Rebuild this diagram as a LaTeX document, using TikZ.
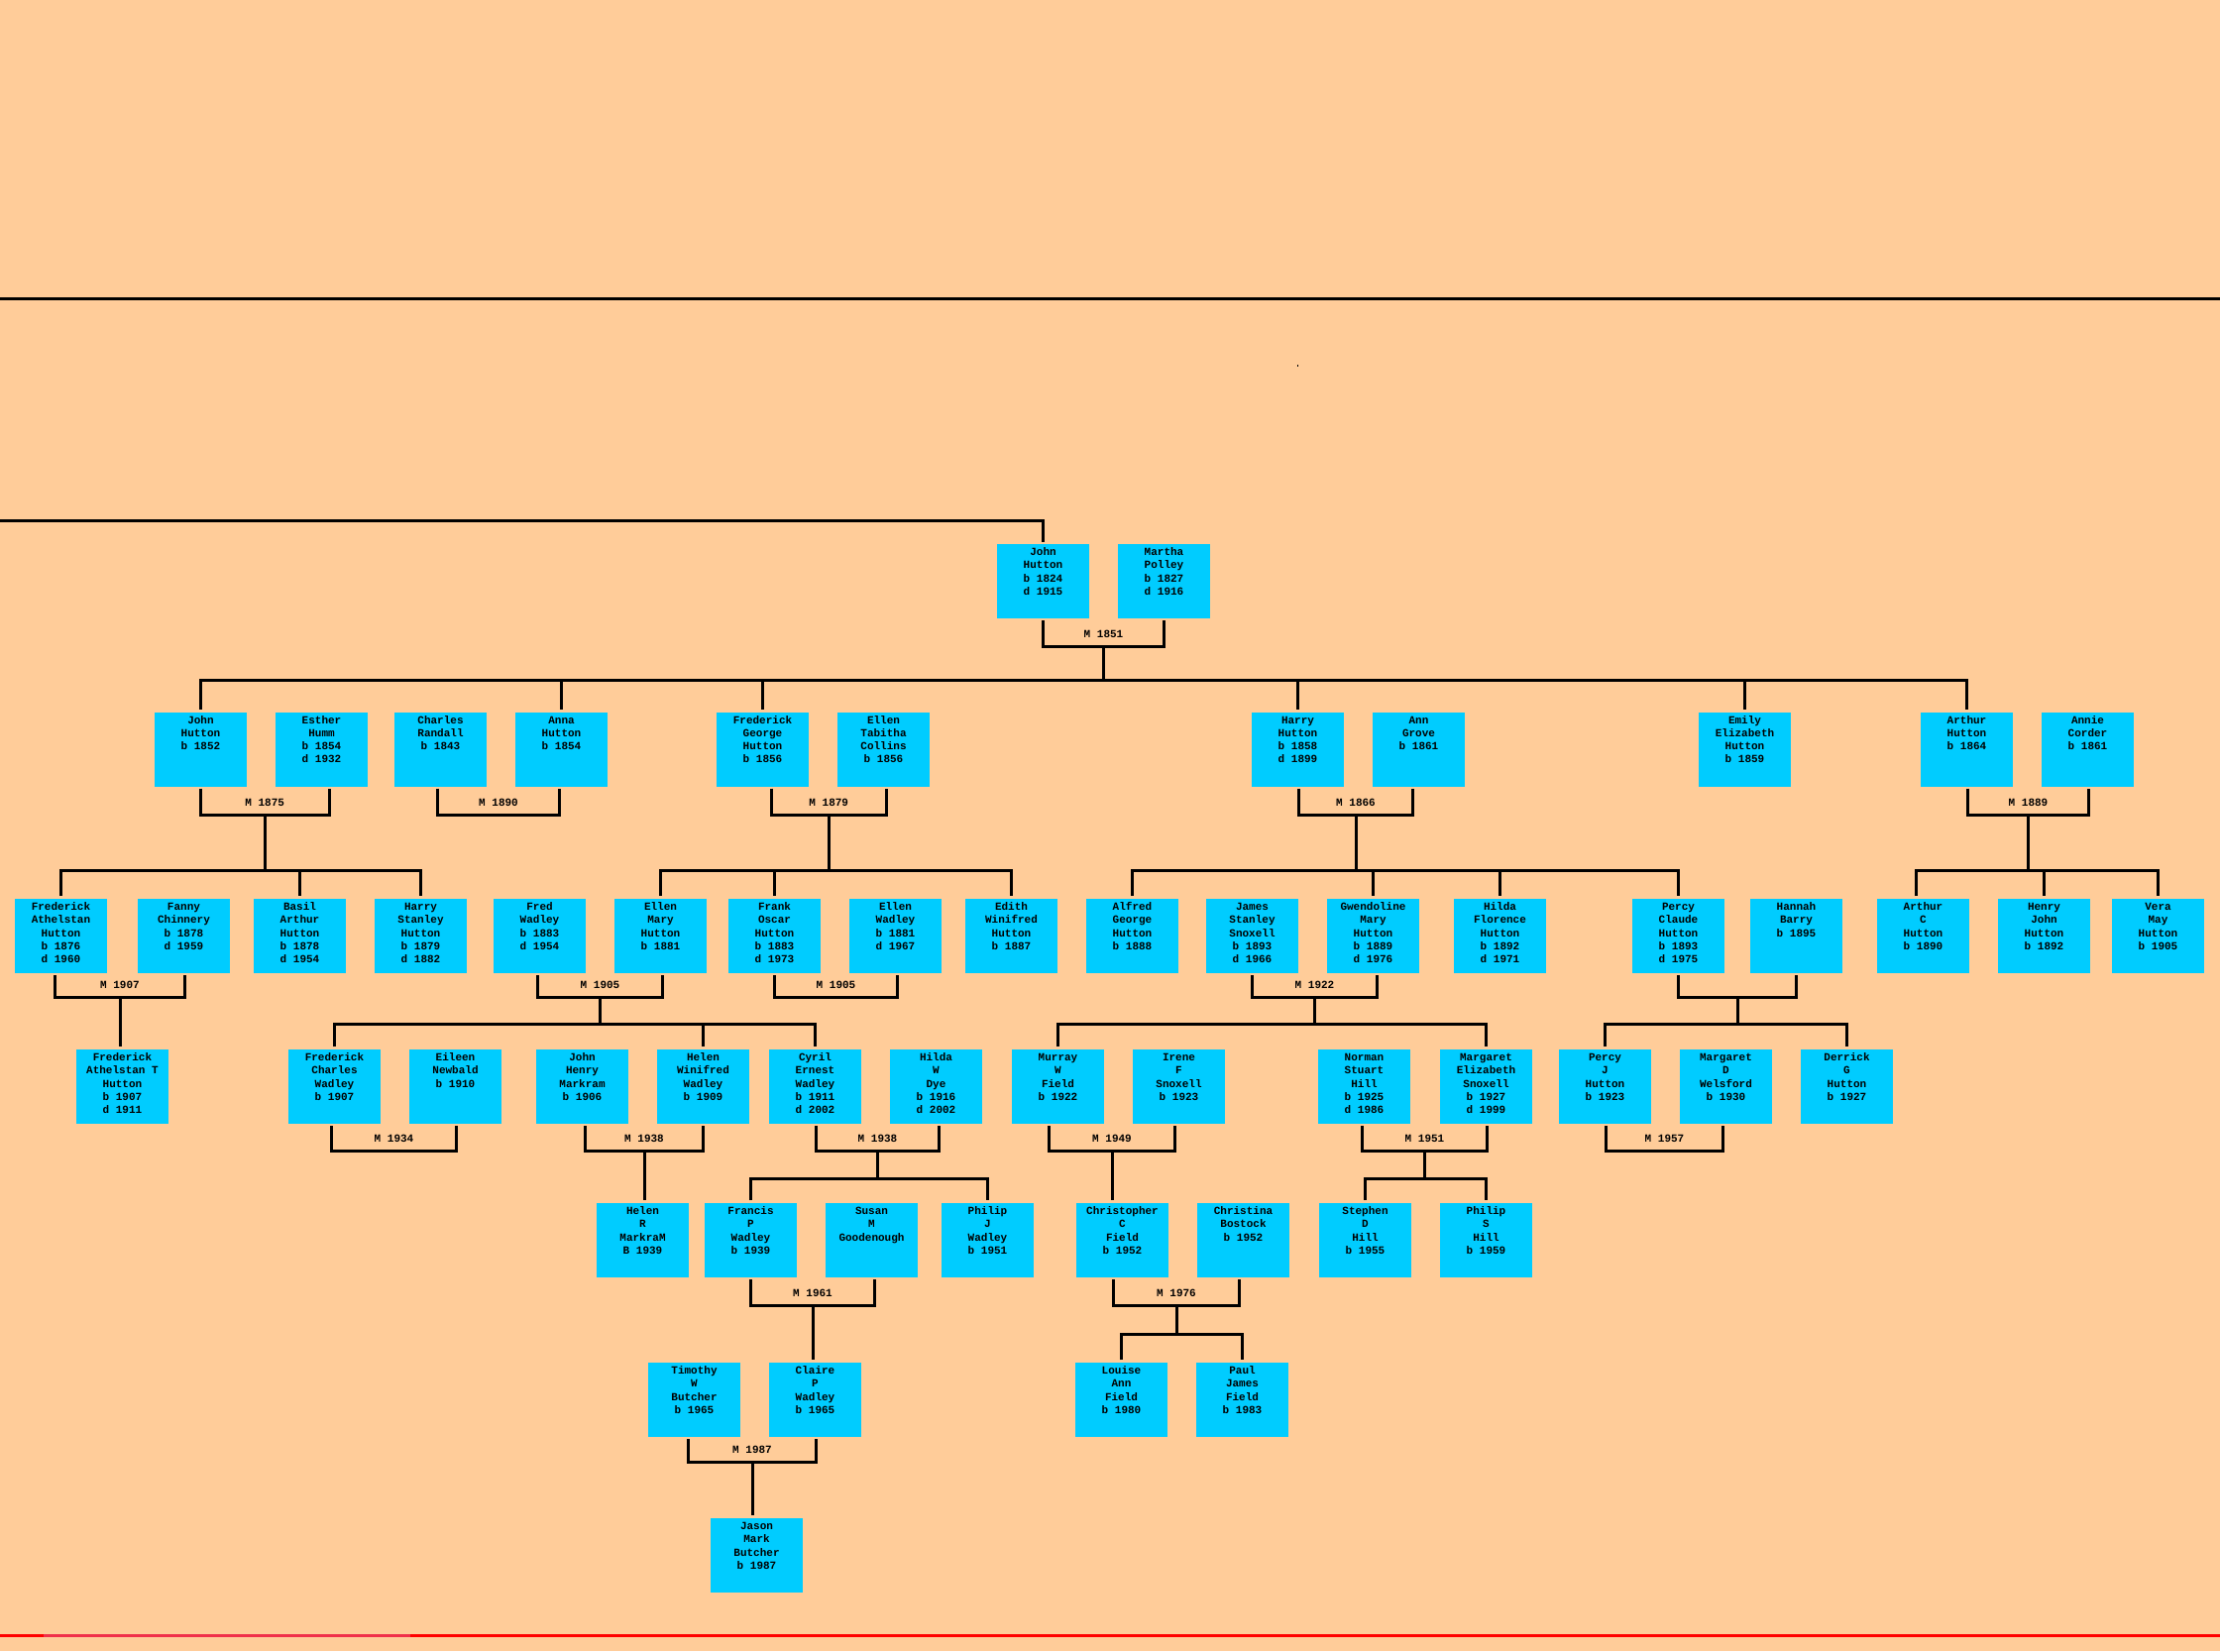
\documentclass[tikz,border=0pt]{standalone}
\usepackage{fontspec}
\setmainfont{Liberation Mono}
\usetikzlibrary{calc}
\definecolor{bgpeach}{HTML}{FFCC99}
\definecolor{boxcyan}{HTML}{00CCFF}
\definecolor{redline}{HTML}{FF0000}
\definecolor{redseg}{HTML}{F0304A}
\tikzset{
  pbox/.style={fill=boxcyan, inner sep=0pt, outer sep=0pt, font=\fontsize{11}{13.2}\selectfont\bfseries},
  conn/.style={line width=3pt, draw=black, line join=miter},
  mlabel/.style={inner sep=0pt, font=\fontsize{11}{13.2}\selectfont\bfseries},
}
\newcommand\pp[4]{\node[pbox] (#1) at (#2,#3) {\parbox[c][75pt][t]{93pt}{\centering\vspace*{2.5pt}\strut#4}};}
\newcommand\bracket[6]{%
  \coordinate (#1L) at ($(#2.south)+(#4,0)$);
  \coordinate (#1R) at ($(#3.south)+(#5,0)$);
  \coordinate (#1Y) at (0,#6);
  \draw[conn,shorten <=2pt,shorten >=2pt] (#1L) -- (#1L |- #1Y) -- (#1R |- #1Y) -- (#1R);
  \coordinate (#1M) at ($(#1L |- #1Y)!0.5!(#1R |- #1Y)$);
}
\newcommand\marr[7]{%
  \bracket{#1}{#2}{#3}{#4}{#5}{#6}
  \node[mlabel] (#1) at ($(#1M)+(0,-12)$) {#7};
}
\begin{document}
\begin{tikzpicture}[x=1pt,y=-1pt]
\fill[bgpeach] (0,0) rectangle (2240,1666);
\useasboundingbox (0,0) rectangle (2240,1666);

% stray lines
\coordinate (tl) at (0,301);
\coordinate (tr) at (2240,301);
\draw[conn] (tl) -- (tr);
\fill[black] (1308.5,367.5) rectangle (1309.5,370);
\coordinate (bl) at (0,1650.5);
\coordinate (br) at (2240,1650.5);
\draw[line width=3pt,redline] (bl) -- (br);
\coordinate (bsl) at (44,1650.5);
\coordinate (bsr) at (414,1650.5);
\draw[line width=3pt,redseg] (bsl) -- (bsr);

% row 1
\pp{jh}{1052.5}{586.5}{John\\Hutton\\b 1824\\d 1915}
\pp{mp}{1174.5}{586.5}{Martha\\Polley\\b 1827\\d 1916}

% row 2
\pp{jh2}{202.5}{756}{John\\Hutton\\b 1852}
\pp{eh}{324.5}{756}{Esther\\Humm\\b 1854\\d 1932}
\pp{cr}{444.5}{756}{Charles\\Randall\\b 1843}
\pp{ah}{566.5}{756}{Anna\\Hutton\\b 1854}
\pp{fgh}{769.5}{756}{Frederick\\George\\Hutton\\b 1856}
\pp{etc}{891.5}{756}{Ellen\\Tabitha\\Collins\\b 1856}
\pp{hh}{1309.5}{756}{Harry\\Hutton\\b 1858\\d 1899}
\pp{ag}{1431.5}{756}{Ann\\Grove\\b 1861}
\pp{eeh}{1760.5}{756}{Emily\\Elizabeth\\Hutton\\b 1859}
\pp{arh}{1984.5}{756}{Arthur\\Hutton\\b 1864}
\pp{ac}{2106.5}{756}{Annie\\Corder\\b 1861}

% row 3
\pp{fah}{61.5}{944.5}{Frederick\\Athelstan\\Hutton\\b 1876\\d 1960}
\pp{fc}{185.5}{944.5}{Fanny\\Chinnery\\b 1878\\d 1959}
\pp{bah}{302.5}{944.5}{Basil\\Arthur\\Hutton\\b 1878\\d 1954}
\pp{hsh}{424.5}{944.5}{Harry\\Stanley\\Hutton\\b 1879\\d 1882}
\pp{fw}{544.5}{944.5}{Fred\\Wadley\\b 1883\\d 1954}
\pp{emh}{666.5}{944.5}{Ellen\\Mary\\Hutton\\b 1881}
\pp{foh}{781.5}{944.5}{Frank\\Oscar\\Hutton\\b 1883\\d 1973}
\pp{ew}{903.5}{944.5}{Ellen\\Wadley\\b 1881\\d 1967}
\pp{ewh}{1020.5}{944.5}{Edith\\Winifred\\Hutton\\b 1887}
\pp{agh}{1142.5}{944.5}{Alfred\\George\\Hutton\\b 1888}
\pp{jss}{1263.5}{944.5}{James\\Stanley\\Snoxell\\b 1893\\d 1966}
\pp{gmh}{1385.5}{944.5}{Gwendoline\\Mary\\Hutton\\b 1889\\d 1976}
\pp{hfh}{1513.5}{944.5}{Hilda\\Florence\\Hutton\\b 1892\\d 1971}
\pp{pch}{1693.5}{944.5}{Percy\\Claude\\Hutton\\b 1893\\d 1975}
\pp{hb}{1812.5}{944.5}{Hannah\\Barry\\b 1895}
\pp{ach}{1940.5}{944.5}{Arthur\\C\\Hutton\\b 1890}
\pp{hjh}{2062.5}{944.5}{Henry\\John\\Hutton\\b 1892}
\pp{vmh}{2177.5}{944.5}{Vera\\May\\Hutton\\b 1905}

% row 4
\pp{faht}{123.5}{1096.5}{Frederick\\Athelstan T\\Hutton\\b 1907\\d 1911}
\pp{fcw}{337.5}{1096.5}{Frederick\\Charles\\Wadley\\b 1907}
\pp{en}{459.5}{1096.5}{Eileen\\Newbald\\b 1910}
\pp{jhm}{587.5}{1096.5}{John\\Henry\\Markram\\b 1906}
\pp{hww}{709.5}{1096.5}{Helen\\Winifred\\Wadley\\b 1909}
\pp{cew}{822.5}{1096.5}{Cyril\\Ernest\\Wadley\\b 1911\\d 2002}
\pp{hwd}{944.5}{1096.5}{Hilda\\W\\Dye\\b 1916\\d 2002}
\pp{mwf}{1067.5}{1096.5}{Murray\\W\\Field\\b 1922}
\pp{ifs}{1189.5}{1096.5}{Irene\\F\\Snoxell\\b 1923}
\pp{nsh}{1376.5}{1096.5}{Norman\\Stuart\\Hill\\b 1925\\d 1986}
\pp{mes}{1499.5}{1096.5}{Margaret\\Elizabeth\\Snoxell\\b 1927\\d 1999}
\pp{pjh}{1619.5}{1096.5}{Percy\\J\\Hutton\\b 1923}
\pp{mdw}{1741.5}{1096.5}{Margaret\\D\\Welsford\\b 1930}
\pp{dgh}{1863.5}{1096.5}{Derrick\\G\\Hutton\\b 1927}

% row 5
\pp{hrm}{648.5}{1251.5}{Helen\\R\\MarkraM\\B 1939}
\pp{fpw}{757.5}{1251.5}{Francis\\P\\Wadley\\b 1939}
\pp{smg}{879.5}{1251.5}{Susan\\M\\Goodenough}
\pp{pjw}{996.5}{1251.5}{Philip\\J\\Wadley\\b 1951}
\pp{ccf}{1132.5}{1251.5}{Christopher\\C\\Field\\b 1952}
\pp{cb}{1254.5}{1251.5}{Christina\\Bostock\\b 1952}
\pp{sdh}{1377.5}{1251.5}{Stephen\\D\\Hill\\b 1955}
\pp{psh}{1499.5}{1251.5}{Philip\\S\\Hill\\b 1959}

% row 6
\pp{twb}{700.5}{1412.5}{Timothy\\W\\Butcher\\b 1965}
\pp{cpw}{822.5}{1412.5}{Claire\\P\\Wadley\\b 1965}
\pp{laf}{1131.5}{1412.5}{Louise\\Ann\\Field\\b 1980}
\pp{pjf}{1253.5}{1412.5}{Paul\\James\\Field\\b 1983}

% row 7
\pp{jmb}{763.5}{1569.5}{Jason\\Mark\\Butcher\\b 1987}

% marriages
\marr{m1851}{jh}{mp}{0}{0}{652}{M 1851}
\marr{m1875}{jh2}{eh}{0}{7.5}{822}{M 1875}
\marr{m1890}{cr}{ah}{-3}{-2}{822}{M 1890}
\marr{m1879}{fgh}{etc}{8.5}{3}{822}{M 1879}
\marr{m1866}{hh}{ag}{1}{-6}{822}{M 1866}
\marr{m1889}{arh}{ac}{1}{1}{822}{M 1889}
\marr{m1907}{fah}{fc}{-6}{1}{1006}{M 1907}
\marr{m1905a}{fw}{emh}{-2}{2}{1006}{M 1905}
\marr{m1905b}{foh}{ew}{0}{2}{1006}{M 1905}
\marr{m1922}{jss}{gmh}{0}{4}{1006}{M 1922}
\bracket{mph}{pch}{hb}{0}{0}{1006}
\marr{m1934}{fcw}{en}{-3}{1}{1161}{M 1934}
\marr{m1938a}{jhm}{hww}{3}{0}{1161}{M 1938}
\marr{m1938b}{cew}{hwd}{1}{3}{1161}{M 1938}
\marr{m1949}{mwf}{ifs}{-9}{-4}{1161}{M 1949}
\marr{m1951}{nsh}{mes}{-2}{1}{1161}{M 1951}
\marr{m1957}{pjh}{mdw}{1}{-3}{1161}{M 1957}
\marr{m1961}{fpw}{smg}{0}{3}{1317}{M 1961}
\marr{m1976}{ccf}{cb}{-9}{-4}{1317}{M 1976}
\marr{m1987}{twb}{cpw}{-6}{1}{1475}{M 1987}

% line into the top couple
\coordinate (edge) at (0,525);
\draw[conn,shorten >=2pt] (edge) -| (jh.north);

% sibling levels
\coordinate (s2) at (0,686);
\coordinate (s3) at (0,878);
\coordinate (s4) at (0,1033);
\coordinate (s5) at (0,1189);
\coordinate (s6) at (0,1346);

% children of 1851
\draw[conn] (m1851M) -- (m1851M |- s2);
\draw[conn,shorten <=3pt,shorten >=3pt] (jh2.north) -- (jh2.north |- s2) -- (arh.north |- s2) -- (arh.north);
\foreach \c in {ah,fgh,hh,eeh} {\draw[conn,shorten >=3pt] (\c.north |- s2) -- (\c.north);}

% children of 1875
\draw[conn] (m1875M) -- (m1875M |- s3);
\draw[conn,shorten <=3pt,shorten >=3pt] (fah.north) -- (fah.north |- s3) -- (hsh.north |- s3) -- (hsh.north);
\draw[conn,shorten >=3pt] (bah.north |- s3) -- (bah.north);

% children of 1879
\draw[conn] (m1879M) -- (m1879M |- s3);
\draw[conn,shorten <=3pt,shorten >=3pt] (emh.north) -- (emh.north |- s3) -- (ewh.north |- s3) -- (ewh.north);
\draw[conn,shorten >=3pt] (foh.north |- s3) -- (foh.north);

% children of 1866
\draw[conn] (m1866M) -- (m1866M |- s3);
\draw[conn,shorten <=3pt,shorten >=3pt] (agh.north) -- (agh.north |- s3) -- (pch.north |- s3) -- (pch.north);
\foreach \c in {gmh,hfh} {\draw[conn,shorten >=3pt] (\c.north |- s3) -- (\c.north);}

% children of 1889
\coordinate (achd) at ($(ach.north)+(-7,0)$);
\draw[conn] (m1889M) -- (m1889M |- s3);
\draw[conn,shorten <=3pt,shorten >=3pt] (achd) -- (achd |- s3) -- (vmh.north |- s3) -- (vmh.north);
\draw[conn,shorten >=3pt] (hjh.north |- s3) -- (hjh.north);

% child of 1907
\draw[conn,shorten >=3pt] (m1907M) -- (m1907M |- faht.north);

% children of 1905 (Fred + Ellen Mary)
\draw[conn] (m1905aM) -- (m1905aM |- s4);
\draw[conn,shorten <=3pt,shorten >=3pt] (fcw.north) -- (fcw.north |- s4) -- (cew.north |- s4) -- (cew.north);
\draw[conn,shorten >=3pt] (hww.north |- s4) -- (hww.north);

% children of 1922
\draw[conn] (m1922M) -- (m1922M |- s4);
\draw[conn,shorten <=3pt,shorten >=3pt] (mwf.north) -- (mwf.north |- s4) -- (mes.north |- s4) -- (mes.north);

% children of Percy Claude + Hannah
\draw[conn] (mphM) -- (mphM |- s4);
\draw[conn,shorten <=3pt,shorten >=3pt] (pjh.north) -- (pjh.north |- s4) -- (dgh.north |- s4) -- (dgh.north);

% child of 1938 (John Henry + Helen Winifred)
\draw[conn,shorten >=3pt] (m1938aM) -- (m1938aM |- hrm.north);

% children of 1938 (Cyril + Hilda)
\draw[conn] (m1938bM) -- (m1938bM |- s5);
\draw[conn,shorten <=3pt,shorten >=3pt] (fpw.north) -- (fpw.north |- s5) -- (pjw.north |- s5) -- (pjw.north);

% child of 1949
\draw[conn,shorten >=3pt] (m1949M) -- (m1949M |- ccf.north);

% children of 1951
\draw[conn] (m1951M) -- (m1951M |- s5);
\draw[conn,shorten <=3pt,shorten >=3pt] (sdh.north) -- (sdh.north |- s5) -- (psh.north |- s5) -- (psh.north);

% child of 1961
\draw[conn,shorten >=3pt] (m1961M) -- (m1961M |- cpw.north);

% children of 1976
\draw[conn] (m1976M) -- (m1976M |- s6);
\draw[conn,shorten <=3pt,shorten >=3pt] (laf.north) -- (laf.north |- s6) -- (pjf.north |- s6) -- (pjf.north);

% child of 1987
\draw[conn,shorten >=3pt] (m1987M) -- (m1987M |- jmb.north);
\end{tikzpicture}
\end{document}
